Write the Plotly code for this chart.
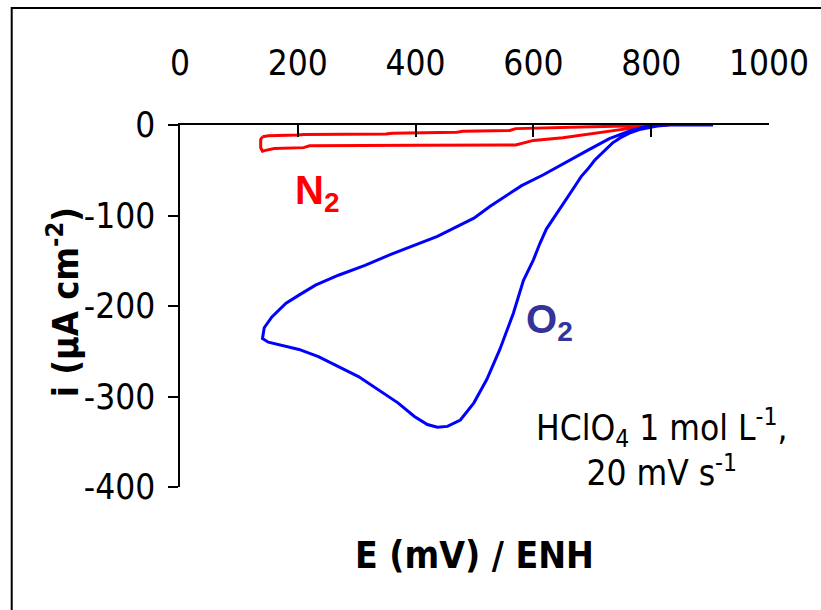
import plotly.graph_objects as go

# O2-saturated CV (blue): cathodic sweep then anodic sweep
o2_E = [905, 870, 830, 810, 795, 780, 763, 748, 734, 718, 704, 692, 681, 669, 658, 647,
        634, 622, 611, 600, 583, 566, 543, 521, 499, 476, 454, 437, 420, 398, 370, 336,
        303, 269, 235, 202, 168, 150, 140,
        143, 156, 180, 202, 230, 269, 314, 358, 403, 437, 471, 499, 526, 550, 580, 617,
        655, 692, 729, 766, 800, 850, 905]
o2_i = [0, 0, 0, -1, -3, -5, -9, -14, -20, -30, -39, -49, -57, -69, -80, -91,
        -103, -115, -131, -149, -172, -208, -248, -281, -307, -326, -333, -334, -331, -322, -307, -292,
        -278, -267, -256, -248, -243, -240, -236,
        -224, -212, -197, -188, -177, -166, -155, -143, -132, -123, -112, -103, -90, -80, -67, -55,
        -41, -28, -15, -6, 0, 0, 0]

# N2-saturated CV (red): anodic (upper) then cathodic (lower) branch, closed loop
n2_E = [140, 150, 200, 210, 350, 360, 470, 480, 560, 570, 700, 760, 830,
        800, 760, 710, 650, 600, 580, 570, 400, 220, 210, 160, 145, 140, 137, 137, 140]
n2_i = [-13, -12, -11, -10.5, -10, -9, -8, -7, -6, -4, -2, -1, 0,
        -1, -4, -8.5, -14, -17, -20, -22, -22.5, -23, -25, -26, -28, -29, -25, -16, -13]

x_ticks = [0, 200, 400, 600, 800, 1000]
y_ticks = [-400, -300, -200, -100, 0]

NARROW = "Liberation Sans Narrow, DejaVu Sans Condensed, Arial Narrow, Liberation Sans, sans-serif"
ARIAL = "Liberation Sans, Arial, sans-serif"

fig = go.Figure()
fig.add_trace(go.Scatter(x=n2_E, y=n2_i, mode="lines", line=dict(color="#FF0000", width=3),
                         showlegend=False, name="N2"))
fig.add_trace(go.Scatter(x=o2_E, y=o2_i, mode="lines", line=dict(color="#0000FF", width=3),
                         showlegend=False, name="O2"))

fig.update_layout(
    width=821, height=610,
    margin=dict(l=180, r=46, t=125, b=123),
    paper_bgcolor="white", plot_bgcolor="white",
    font=dict(family=NARROW, color="black", size=34),
    xaxis=dict(range=[0, 1000], side="top", tickvals=x_ticks, ticktext=[str(v) for v in x_ticks],
               ticks="inside", ticklen=12, tickwidth=1.5, tickcolor="black",
               showline=True, linecolor="black", linewidth=1.5, showgrid=False, zeroline=False,
               ticklabelstandoff=34, tickfont=dict(size=35, family=NARROW)),
    yaxis=dict(range=[-400, 0], tickvals=y_ticks, ticktext=[str(v) for v in y_ticks],
               ticks="outside", ticklen=10, tickwidth=1.5, tickcolor="black",
               showline=True, linecolor="black", linewidth=1.5, showgrid=False, zeroline=False,
               ticklabelstandoff=6, tickfont=dict(size=35, family=NARROW)),
    shapes=[dict(type="rect", xref="paper", yref="paper",
                 x0=(10 - 180) / 595, x1=(830 - 180) / 595,
                 y0=(487 - 620) / 362, y1=(487 - 8) / 362,
                 line=dict(color="black", width=2), fillcolor="rgba(0,0,0,0)", layer="below")],
    annotations=[
        dict(text="<b>i (µA cm<sup>-2</sup>)</b>", xref="paper", yref="paper",
             x=(62 - 180) / 595, y=(487 - 302) / 362, textangle=-90,
             xanchor="center", yanchor="middle", showarrow=False,
             font=dict(size=36, family=NARROW, color="black")),
        dict(text="<b>E (mV) / ENH</b>", xref="paper", yref="paper", x=0.5, y=(487 - 555) / 362,
             xanchor="center", yanchor="middle", showarrow=False,
             font=dict(size=37, family=NARROW, color="black")),
        dict(text="<b>N<sub>2</sub></b>", x=192, y=-75, xanchor="left", yanchor="middle",
             showarrow=False, font=dict(size=40, family=ARIAL, color="#FF0000")),
        dict(text="<b>O<sub>2</sub></b>", x=584, y=-218, xanchor="left", yanchor="middle",
             showarrow=False, font=dict(size=40, family=ARIAL, color="#333399")),
        dict(text="HClO<sub>4</sub> 1 mol L<sup>-1</sup>,<br>20 mV s<sup>-1</sup>", x=817, y=-356,
             xanchor="center", yanchor="middle", align="center", showarrow=False,
             font=dict(size=35, family=NARROW, color="black")),
    ],
)

fig.write_html("out.html")
